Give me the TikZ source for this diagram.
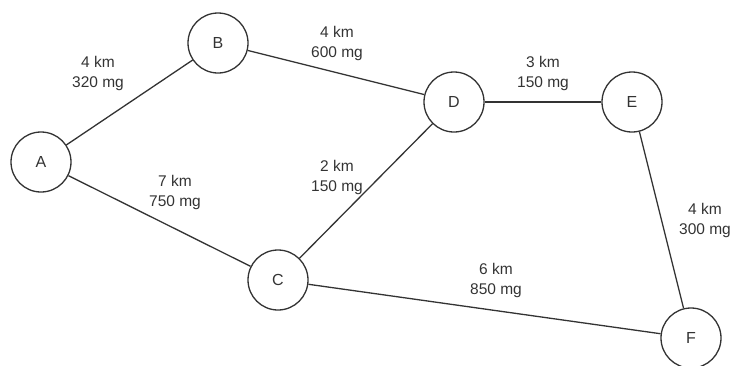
\documentclass[tikz,border=0pt]{standalone}
\usepackage{fontspec}
\setmainfont{Liberation Sans}
\begin{document}
\begin{tikzpicture}[x=1pt,y=-1pt,
  vertex/.style={circle,draw=black!80,line width=1.3pt,minimum size=60pt,inner sep=0pt,font=\fontsize{16}{18}\selectfont,text=black!80},
  edge/.style={draw=black!80,line width=1.3pt},
  lbl/.style={align=center,font=\fontsize{15.5}{20}\selectfont,text=black!80,inner sep=0pt}]
\useasboundingbox (0,0) rectangle (739,365);
\node[vertex] (A) at (41,162) {A};
\node[vertex] (B) at (218,43) {B};
\node[vertex] (C) at (278,280) {C};
\node[vertex] (D) at (454,102) {D};
\node[vertex] (E) at (632,102) {E};
\node[vertex] (F) at (691,338) {F};
\draw[edge] (A) -- (B);
\draw[edge] (A) -- (C);
\draw[edge] (B) -- (D);
\draw[edge] (C) -- (D);
\draw[edge] (D) -- (E);
\draw[edge] (E) -- (F);
\draw[edge] (C) -- (F);
\node[lbl] (l1) at (98,73) {4 km\\320 mg};
\node[lbl] (l2) at (337,43) {4 km\\600 mg};
\node[lbl] (l3) at (175,192) {7 km\\750 mg};
\node[lbl] (l4) at (337,177) {2 km\\150 mg};
\node[lbl] (l5) at (543,73) {3 km\\150 mg};
\node[lbl] (l6) at (705,220) {4 km\\300 mg};
\node[lbl] (l7) at (496,280) {6 km\\850 mg};
\end{tikzpicture}
\end{document}
